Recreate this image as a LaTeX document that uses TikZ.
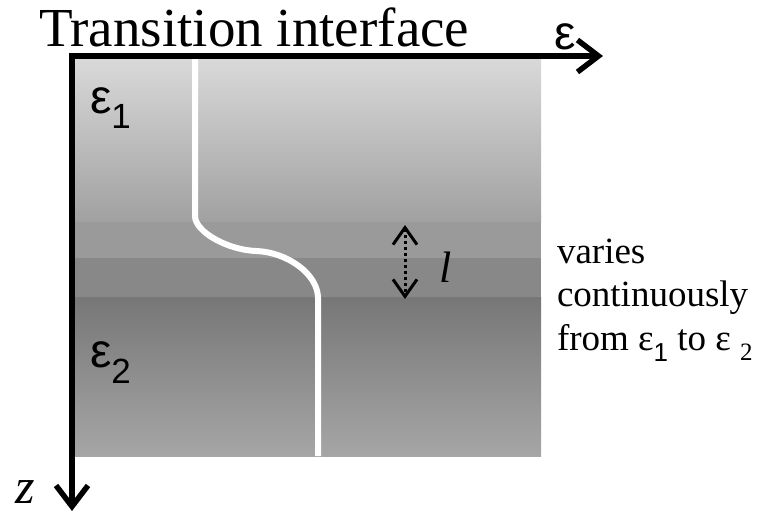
\documentclass[tikz,border=0pt]{standalone}
\usepackage{fontspec}
\setmainfont{Liberation Serif}
\newfontfamily\arialf{Liberation Sans}
\usetikzlibrary{arrows.meta}
\definecolor{gA}{gray}{0.85}
\definecolor{gB}{gray}{0.63}
\definecolor{gC}{gray}{0.605}
\definecolor{gD}{gray}{0.535}
\definecolor{gE}{gray}{0.465}
\definecolor{gF}{gray}{0.65}
\begin{document}
\begin{tikzpicture}[x=1pt,y=-1pt,
  axisline/.style={line width=5.5pt,-{Straight Barb[length=21pt,width=32pt,line width=5.5pt]}},
  dotarrow/.style={line width=3pt,dash pattern=on 3pt off 3pt,
     {Straight Barb[length=17pt,width=24pt,line width=3pt]}-{Straight Barb[length=17pt,width=24pt,line width=3pt]}},
  lbl/.style={inner sep=0pt,outer sep=0pt,anchor=base west},
  interface/.style={white,line width=6pt,line join=round}]
\useasboundingbox (0,0) rectangle (769,520);
% layered medium
\shade[top color=gA,bottom color=gB] (75,59) rectangle (541,222);
\fill[gC] (75,222) rectangle (541,258);
\fill[gD] (75,258) rectangle (541,297);
\shade[top color=gE,bottom color=gF] (75,297) rectangle (541,456);
% interface curve
\draw[interface] (195,59) -- (195,216)
  .. controls (195,232) and (228,250) .. (256,251)
  .. controls (287,252) and (318,274) .. (318,298) -- (318,456);
% axes
\coordinate (Ostart) at (69,56);
\coordinate (Otop) at (72,53);
\coordinate (Ex) at (603,56);
\coordinate (Zx) at (72,511);
\draw[axisline] (Ostart) -- (Ex);
\draw[axisline] (Otop) -- (Zx);
% thickness arrow
\coordinate (La) at (405,225);
\coordinate (Lb) at (405,299);
\draw[dotarrow] (La) -- (Lb);
% labels
\node[lbl] (title) at (39,46) {\fontsize{55}{60}\selectfont Transition interface};
\node[lbl] (eps) at (554,49) {\arialf\fontsize{48}{50}\selectfont ε};
\node[lbl] (z) at (16,503) {\fontsize{50}{52}\selectfont\itshape z};
\node[lbl] (l) at (439,282) {\fontsize{44}{48}\selectfont\itshape l};
\node[lbl] (e1) at (90,113) {\arialf\fontsize{48}{50}\selectfont ε\raisebox{-15pt}{\fontsize{35}{36}\selectfont 1}};
\node[lbl] (e2) at (90,367) {\arialf\fontsize{48}{50}\selectfont ε\raisebox{-16pt}{\fontsize{35}{36}\selectfont 2}};
\node[lbl] (v1) at (557,263) {\fontsize{37}{40}\selectfont varies};
\node[lbl] (v2) at (557,306) {\fontsize{37}{40}\selectfont continuously};
\node[lbl] (v3) at (557,350) {\fontsize{37}{40}\selectfont from ε\raisebox{-11pt}{\arialf\fontsize{26}{28}\selectfont 1} to ε \raisebox{-10pt}{\fontsize{25}{26}\selectfont 2}};
\end{tikzpicture}
\end{document}
